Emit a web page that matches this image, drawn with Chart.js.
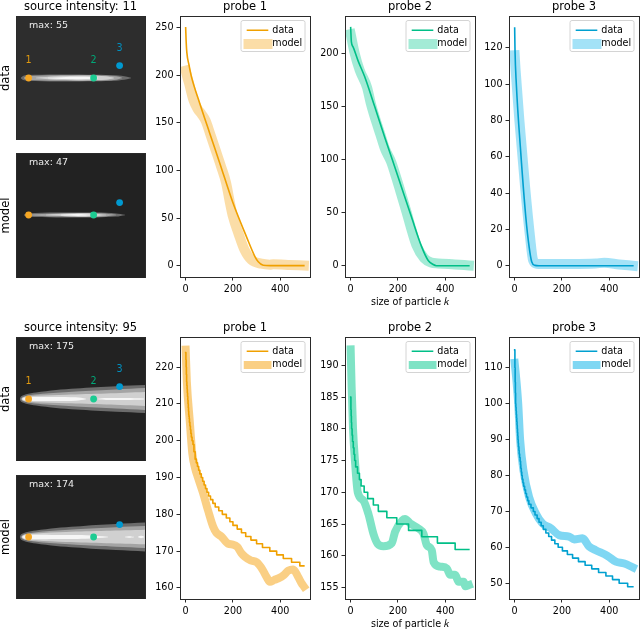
<!DOCTYPE html>
<html><head><meta charset="utf-8">
<style>html,body{margin:0;padding:0;background:#fff;width:640px;height:629px;overflow:hidden}canvas{position:absolute}</style>
<script src="https://cdn.jsdelivr.net/npm/chart.js@4"></script>
</head><body>
<script>
// ---------- shared ticks ----------
const kTicks=[0,200,400];
const seriesLabels=['data','model'];
const probeK=[12.6,77.6,103.6];
const probeY1=[62,62,49.6];
const probeNames=['1','2','3'];

// ---------- top row : source intensity 11 ----------
const t1Ticks=[0,50,100,150,200,250];
const t1DataK=[0,2,5,14,24,59,102,144,200,257,293,307,328,356,500];
const t1Data=[250,236,224,211,199,171,139,108,66,30.5,9.5,4,0.4,0,0];
const t1ModelK=[0,7,14,33,50,68,85,103,126,150,171,185,200,223,249,278,320,356,370,441,500];
const t1Model=[205,198,192,174,165,159,152,139,122,104,87,69,51.5,34,16.5,6,2,1,1.4,0.7,0];

const t2Ticks=[0,50,100,150,200];
const t2DataK=[0,3,10,31,59,102,144,200,257,300,328,349,363,500];
const t2Data=[224,210.6,206,193,178,149.5,121,84,46,18,5,1.2,0,0];
const t2ModelK=[0,17,38,69,85,106,125,145,171,194,215,236,256,278,311,340,370,441,500];
const t2Model=[218,199.8,184,168,153,137,124,110,97.8,82,66.5,50.8,35,19.5,7,3,2.2,1.2,0.3];

const t3Ticks=[0,20,40,60,80,100,120];
const t3DataK=[0,1.4,7,25,47,61,72,86,103,500];
const t3Data=[131,118.7,100,63.7,27,10.5,2.2,0.2,0,0];
const t3ModelK=[0,4,20,44,65,78,95,110,343,379,442,500];
const t3Model=[116,107.7,80,43.5,16,3,1,0.9,1.3,1.6,0.7,0];

// ---------- bottom row : source intensity 95 ----------
const b1Ticks=[160,170,180,190,200,210,220];
const b1DataK=[0,1,2,3,4,5,6,7,8,9,10,11,12,13,14,15,16,18,20,22,24,27,31,35,40,45,50,55,60,66,72,78,84,90,97,105,115,125,140,155,172,187,200,218,236,254,276,300,325,356,385,413,448,483,500];
const b1Data=[224,222,220,218,216,215,214,213,212,211,210,209,208,207,206.5,206,205,204,203,202,201,200,199,197,195,194,193,192,191,190,189,188,187,186,185,184,183,182,181,180,179,178,177,176,175,174,173,172,171,170,169,168,167,166,166];
const b1ModelK=[0,5,17,28,40,52,74,95,116,130,151,180,200,218,235,250,275,300,325,342,356,375,392,415,434,455,476,490,500];
const b1Model=[224.8,216,205.6,196.6,192.5,190,185.7,181,176.7,175,174,172,171.8,171.2,169.5,168.5,167.5,167,165,163,161.7,162.2,162.6,163.5,164.7,165,163,161.3,160.4];

const b2Ticks=[155,160,165,170,175,180,185,190];
const b2DataK=[0,1,2,3,4,6,8,11,14,17,21,29,37,44,57,72,96,117,153,195,245,301,367,442,500];
const b2Data=[185,183,182,181,180,179,178,177,176,175,174,173,172,171,170,169,168,167,166,165,164,163,162,161,161];
const b2ModelK=[0,4,10,18,30,54,75,96,114,139,174,188,219,230,252,287,308,322,343,351,379,407,421,442,457,478,485,500];
const b2Model=[192.5,186.6,180,175,170,168.7,166.6,163.5,161.9,161.5,162,163.8,165.6,165.8,165.1,164.3,163.5,161.7,160.9,159,158.3,158,157,157,155.9,155.9,155.2,155.4];

const b3Ticks=[50,60,70,80,90,100,110];
const b3DataK=[0,1,2,3,4,5,6,7,8,9,10,11,12,13,14,15,16,18,19,21,23,25,26,28,30,32,35,38,42,46,50,55,60,69,79,86,95,103,112,121,132,144,156,170,184,202,223,245,270,298,326,355,386,414,442,478,500];
const b3Data=[115,110,106,103,100,99,98,97,96,95,94,93,92,91,90,89,88,87,86,85,84,83,82,81,80,79,78,77,76,75,74,73,72,71,70,69,68,67,66,65,64,63,62,61,60,59,58,57,56,55,54,53,52,51,50,49,49];
const b3ModelK=[0,8,15,23,37,61,89,117,153,188,230,252,287,315,343,393,428,464,500];
const b3Model=[111.4,106,100,90,81.5,74,69.5,66.7,65.3,63.4,63,62.2,62.5,60.2,59.2,57.6,56,55.5,54.4];

// ---------- plume panels : x along the panel, half thickness ----------
const tdOuterX=[5,7,12,40,80,100,111,115];const tdOuterH=[0.5,2,2.9,3.4,3.2,2.7,1.3,0.2];
const tdMidX=[8,14,40,80,100,106];const tdMidH=[0.5,2,2.8,2.8,1.7,0.3];
const tdLightX=[20,40,70,90,98];const tdLightH=[0.3,1.7,2.2,1.8,0.3];
const tdCoreX=[32,50,75,82];const tdCoreH=[0.2,1.1,1.1,0.2];

const tmOuterX=[8,12,40,80,100,109];const tmOuterH=[0.4,1.7,2.4,2.5,1.6,0.2];
const tmMidX=[12,40,70,85,100];const tmMidH=[0.4,1.5,2,1.7,0.3];
const tmLightX=[30,55,75,90];const tmLightH=[0.3,1.4,1.6,0.3];
const tmCoreX=[45,62,75];const tmCoreH=[0.2,0.9,0.2];

const bdOuterX=[3.7,5,10,20,40,60,80,100,130];const bdOuterH=[0,2.5,4.7,6.5,9,10.5,11.7,12.8,14];
const bdMidX=[5,7,15,30,60,100,130];const bdMidH=[0,2,4,5.5,7.5,9.5,11];
const bdLightX=[5.5,8,20,50,90,130];const bdLightH=[0,2,3.3,4.3,5.5,7];
const bdCoreX=[6,10,30,60,70];const bdCoreH=[0,1.8,2,1.7,0.3];
const bdDashX=[82,90,110,128];const bdDashH=[0.3,1,1,0.5];

const bmOuterX=[3.7,5,10,20,40,60,80,100,130];const bmOuterH=[0,2.5,4.7,6.5,9,10.5,12,13,14.5];
const bmMidX=[5,7,15,30,60,100,130];const bmMidH=[0,2,4,5.7,7.7,9.8,11];
const bmLightX=[5.5,8,20,50,90,130];const bmLightH=[0,2.2,3.6,5,6.2,7.3];
const bmCoreX=[6,10,40,70,92];const bmCoreH=[0,2,2,1.8,0.3];
const bmDashX=[109,113,118];const bmDashH=[0.2,0.8,0.2];
const bmDash2X=[122,125,128];const bmDash2H=[0.3,1.2,0.6];

// ---------- colours ----------
const orange='#F0A000',green='#00BF87',blue='#00A0D0';
const orangeBand=a=>`rgba(245,160,10,${a})`,greenBand=a=>`rgba(0,200,140,${a})`,blueBand=a=>`rgba(0,175,232,${a})`;
const probeColors=['#F5A623','#1CCB92','#0099D0'];
const probeTextColors=['#E09A10','#00A878','#0090C0'];

const FONT='"DejaVu Sans"';
const SP='#2a2a2a';

function place(l,t,w,h){
  const c=document.createElement('canvas');
  c.width=w;c.height=h;c.style.left=l+'px';c.style.top=t+'px';c.style.width=w+'px';c.style.height=h+'px';
  document.body.appendChild(c);return c;
}
const frame={id:'frame',afterDraw(ch){
  const a=ch.chartArea,x=ch.ctx;x.save();x.strokeStyle=SP;x.lineWidth=1;
  x.strokeRect(Math.round(a.left)+.5,Math.round(a.top)+.5,Math.round(a.right-a.left),Math.round(a.bottom-a.top));x.restore();
}};
const legendBox={id:'legendBox',beforeDraw(ch){
  const a=ch.chartArea,x=ch.ctx,L=ch.legend;
  const bl=a.right-69.5,bt=a.top+4.5;
  L.left=bl+3;L.top=bt+1;L.right=L.left+64;
  x.save();x.fillStyle='rgba(255,255,255,.8)';x.strokeStyle='#d4d4d4';x.lineWidth=1;
  x.beginPath();x.roundRect(bl+.5,bt,64,31,2);x.fill();x.stroke();x.restore();
}};

function probeChart(L,R,T,B,yMin,yMax,yTicks,title,kData,vData,kModel,vModel,col,band,bw,stepped,xTitle){
  const c=place(L-36,T-16,R-L+37,B-T+16+36);
  new Chart(c,{type:'line',
    data:{datasets:[
      {label:seriesLabels[0],data:kData.map((k,i)=>({x:k,y:vData[i]})),borderColor:col,borderWidth:1.6,pointRadius:0,stepped:stepped,cubicInterpolationMode:stepped?'default':'monotone',borderCapStyle:'square',borderJoinStyle:'round',fill:false},
      {label:seriesLabels[1],data:kModel.map((k,i)=>({x:k,y:vModel[i]})),borderColor:band,borderWidth:bw,pointRadius:0,cubicInterpolationMode:'monotone',borderCapStyle:'square',borderJoinStyle:'round',fill:false}
    ]},
    options:{responsive:false,animation:false,devicePixelRatio:1,
      layout:{autoPadding:false,padding:{left:0,right:1,top:0,bottom:0}},
      plugins:{
        title:{display:true,text:title,fullSize:false,color:'#000',font:{family:FONT,size:11.5,weight:'normal',lineHeight:1},padding:{top:1,bottom:3.5}},
        tooltip:{enabled:false},
        legend:{display:true,position:'chartArea',align:'start',
          labels:{usePointStyle:true,pointStyleWidth:20,boxHeight:9.6,padding:4,color:'#000',font:{family:FONT,size:9.6},
            generateLabels:ch=>ch.data.datasets.map((d,i)=>({text:d.label,datasetIndex:i,pointStyle:'line',strokeStyle:d.borderColor,fillStyle:d.borderColor,lineWidth:d.borderWidth,lineCap:'square',fontColor:'#000'}))}}
      },
      scales:{
        x:{type:'linear',min:-24,max:526,
          afterBuildTicks:a=>{a.ticks=kTicks.map(v=>({value:v}))},
          afterFit:a=>{a.height=36},
          grid:{drawOnChartArea:false,drawTicks:true,tickLength:3.5,tickColor:SP,tickWidth:1},border:{display:false},
          ticks:{color:'#000',font:{family:FONT,size:9.6},padding:3,maxRotation:0,autoSkip:false},
          title:{display:!!xTitle,text:xTitle||'',color:'#000',font:{family:FONT,size:9.6,lineHeight:1},padding:{top:0,bottom:6}}},
        y:{type:'linear',min:yMin,max:yMax,
          afterBuildTicks:a=>{a.ticks=yTicks.map(v=>({value:v}))},
          afterFit:a=>{a.width=36},
          grid:{drawOnChartArea:false,drawTicks:true,tickLength:3.5,tickColor:SP,tickWidth:1},border:{display:false},
          ticks:{color:'#000',font:{family:FONT,size:9.6},padding:3,autoSkip:false}}
      }},
    plugins:[legendBox,frame]});
}

function panelChart(T,B,bg,layers,c0,probeY,maxText,showNums,yTitle,title){
  const c=place(0,T-16,147,B-T+16);
  const ds=[{type:'scatter',label:'probes',data:probeK.map((k,i)=>({x:k,y:probeY[i]})),backgroundColor:probeColors,borderWidth:0,pointRadius:3.4,showLine:false}];
  layers.forEach(l=>{
    ds.push({type:'line',data:l.x.map((v,i)=>({x:v,y:c0-l.h[i]})),borderWidth:0,pointRadius:0,tension:.3,backgroundColor:l.c,fill:'+1'});
    ds.push({type:'line',data:l.x.map((v,i)=>({x:v,y:c0+l.h[i]})),borderWidth:0,pointRadius:0,tension:.3,fill:false});
  });
  const bgPlugin={id:'bg',beforeDraw(ch){const a=ch.chartArea,x=ch.ctx;x.save();x.fillStyle=bg;x.fillRect(a.left,a.top,a.right-a.left,a.bottom-a.top);x.restore();}};
  const txt={id:'txt',afterDatasetsDraw(ch){
    const x=ch.ctx,sx=ch.scales.x,sy=ch.scales.y;x.save();
    x.textBaseline='middle';x.font='9.5px '+FONT;x.fillStyle='#ececec';x.textAlign='left';
    x.fillText(maxText,sx.getPixelForValue(13),sy.getPixelForValue(9.3));
    if(showNums){x.font='9.6px '+FONT;x.textAlign='center';
      probeK.forEach((k,i)=>{x.fillStyle=probeTextColors[i];x.fillText(probeNames[i],sx.getPixelForValue(k),sy.getPixelForValue(probeY[i]-17.5));});}
    x.restore();
  }};
  new Chart(c,{type:'line',data:{datasets:ds},
    options:{responsive:false,animation:false,devicePixelRatio:1,
      layout:{autoPadding:false,padding:{left:0,right:2,top:title?0:16,bottom:0}},
      plugins:{
        legend:{display:false},tooltip:{enabled:false},
        title:{display:!!title,text:title||'',fullSize:false,color:'#000',font:{family:FONT,size:11.5,weight:'normal',lineHeight:1},padding:{top:1,bottom:3.5}}
      },
      scales:{
        x:{type:'linear',display:false,min:0,max:129},
        y:{type:'linear',reverse:true,min:0,max:B-T,afterFit:a=>{a.width=16},
          grid:{display:false},border:{display:false},ticks:{display:false},
          title:{display:true,text:yTitle,color:'#000',font:{family:FONT,size:11.5,lineHeight:1},padding:0}}
      }},
    plugins:[bgPlugin,txt,frame]});
}

const a1=.36,a2=.5;
probeChart(180,310,16,277,-12,262.5,t1Ticks,'probe 1',t1DataK,t1Data,t1ModelK,t1Model,orange,orangeBand(a1),10,false);
probeChart(345,475,16,277,-10.6,235,t2Ticks,'probe 2',t2DataK,t2Data,t2ModelK,t2Model,green,greenBand(a1),10,false,'size of particle \uD835\uDC58');
probeChart(509,639,16,277,-6.2,137.6,t3Ticks,'probe 3',t3DataK,t3Data,t3ModelK,t3Model,blue,blueBand(a1),10,false);
probeChart(180,310,337,599,157,228.2,b1Ticks,'probe 1',b1DataK,b1Data,b1ModelK,b1Model,orange,orangeBand(a2),8,true);
probeChart(345,475,337,599,153.2,194.45,b2Ticks,'probe 2',b2DataK,b2Data,b2ModelK,b2Model,green,greenBand(a2),8,true,'size of particle \uD835\uDC58');
probeChart(509,639,337,599,45.6,118.6,b3Ticks,'probe 3',b3DataK,b3Data,b3ModelK,b3Model,blue,blueBand(a2),8,true);

const G={o:'#6c6c6c',m:'#a4a4a4',l:'#d0d0d0',c:'#f6f6f6'};
panelChart(16,140,'#2d2d2d',[
  {x:tdCoreX,h:tdCoreH,c:G.c},{x:tdLightX,h:tdLightH,c:G.l},{x:tdMidX,h:tdMidH,c:G.m},{x:tdOuterX,h:tdOuterH,c:G.o}
],62,probeY1,'max: 55',true,'data','source intensity: 11');
panelChart(153,278,'#222222',[
  {x:tmCoreX,h:tmCoreH,c:G.c},{x:tmLightX,h:tmLightH,c:G.l},{x:tmMidX,h:tmMidH,c:G.m},{x:tmOuterX,h:tmOuterH,c:G.o}
],62,probeY1,'max: 47',false,'model');
panelChart(337,461,'#222222',[
  {x:bdDashX,h:bdDashH,c:G.c},{x:bdCoreX,h:bdCoreH,c:G.c},{x:bdLightX,h:bdLightH,c:G.l},{x:bdMidX,h:bdMidH,c:G.m},{x:bdOuterX,h:bdOuterH,c:G.o}
],62,probeY1,'max: 175',true,'data','source intensity: 95');
panelChart(475,599,'#222222',[
  {x:bmDashX,h:bmDashH,c:G.c},{x:bmDash2X,h:bmDash2H,c:G.c},{x:bmCoreX,h:bmCoreH,c:G.c},{x:bmLightX,h:bmLightH,c:G.l},{x:bmMidX,h:bmMidH,c:G.m},{x:bmOuterX,h:bmOuterH,c:G.o}
],62,probeY1,'max: 174',false,'model');
</script>
</body></html>
